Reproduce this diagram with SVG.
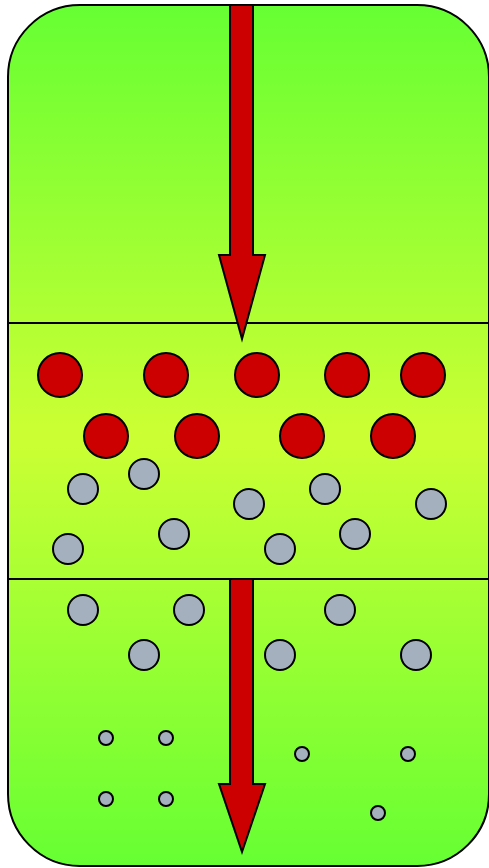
<svg xmlns="http://www.w3.org/2000/svg" width="489" height="868" viewBox="0 0 489 868">
<defs>
<linearGradient id="bg" x1="0" y1="0" x2="0" y2="1">
<stop offset="0" stop-color="#66ff33"/>
<stop offset="0.5" stop-color="#ccff33"/>
<stop offset="1" stop-color="#66ff33"/>
</linearGradient>
<style>
.red{fill:#cc0000;stroke:#000;stroke-width:2}
.gray{fill:#a4b0be;stroke:#000;stroke-width:2}
.line{stroke:#000;stroke-width:2;fill:none}
</style>
</defs>
<g id="vessel">
<rect x="8" y="5" width="481" height="861" rx="72" ry="72" fill="url(#bg)" stroke="#000" stroke-width="2"/>
<line class="line" x1="8" y1="323" x2="489" y2="323"/>
<line class="line" x1="8" y1="579" x2="489" y2="579"/>
</g>
<g id="connectors">
<polygon id="arrow-top" class="red" points="230,5 253,5 253,255 265,255 242,339 219,255 230,255"/>
<polygon id="arrow-bottom" class="red" points="230,579 253,579 253,784 265,784 242,852 219,784 230,784"/>
</g>
<g id="red-particles">
<circle class="red" cx="60" cy="375" r="22"/>
<circle class="red" cx="166" cy="375" r="22"/>
<circle class="red" cx="257" cy="375" r="22"/>
<circle class="red" cx="347" cy="375" r="22"/>
<circle class="red" cx="423" cy="375" r="22"/>
<circle class="red" cx="106" cy="436" r="22"/>
<circle class="red" cx="197" cy="436" r="22"/>
<circle class="red" cx="302" cy="436" r="22"/>
<circle class="red" cx="393" cy="436" r="22"/>
</g>
<g id="gray-particles-middle">
<circle class="gray" cx="83" cy="489" r="15"/>
<circle class="gray" cx="144" cy="474" r="15"/>
<circle class="gray" cx="68" cy="549" r="15"/>
<circle class="gray" cx="174" cy="534" r="15"/>
<circle class="gray" cx="249" cy="504" r="15"/>
<circle class="gray" cx="280" cy="549" r="15"/>
<circle class="gray" cx="325" cy="489" r="15"/>
<circle class="gray" cx="355" cy="534" r="15"/>
<circle class="gray" cx="431" cy="504" r="15"/>
</g>
<g id="gray-particles-lower">
<circle class="gray" cx="83" cy="610" r="15"/>
<circle class="gray" cx="189" cy="610" r="15"/>
<circle class="gray" cx="340" cy="610" r="15"/>
<circle class="gray" cx="144" cy="655" r="15"/>
<circle class="gray" cx="280" cy="655" r="15"/>
<circle class="gray" cx="416" cy="655" r="15"/>
</g>
<g id="small-particles">
<circle class="gray" cx="106" cy="738" r="7"/>
<circle class="gray" cx="166" cy="738" r="7"/>
<circle class="gray" cx="106" cy="799" r="7"/>
<circle class="gray" cx="166" cy="799" r="7"/>
<circle class="gray" cx="302" cy="754" r="7"/>
<circle class="gray" cx="408" cy="754" r="7"/>
<circle class="gray" cx="378" cy="813" r="7"/>
</g>
</svg>
